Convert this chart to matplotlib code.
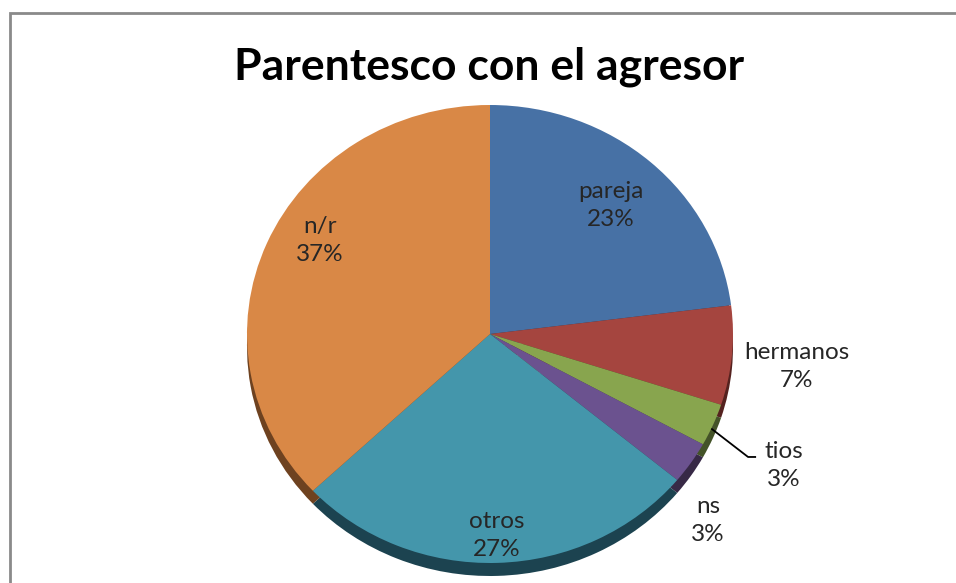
import numpy as np
import matplotlib
matplotlib.use("Agg")
import matplotlib.pyplot as plt
from matplotlib.lines import Line2D

# ---- data ----
categories = ["pareja", "hermanos", "tios", "ns", "otros", "n/r"]
values = [23, 7, 3, 3, 27, 37]
title = "Parentesco con el agresor"

colors = ["#4771A5", "#A5453F", "#88A54E", "#6B528F", "#4496AB", "#D98846"]
side_colors = ["#223A57", "#55221F", "#445328", "#372946", "#1C4350", "#6E4220"]

W, H = 956, 583
fig = plt.figure(figsize=(W / 100, H / 100), dpi=100)
fig.patch.set_facecolor("white")

# outer frame (only left and top edges are visible in the crop)
fx, fy = 9.5 / W, 1 - 13 / H
fig.add_artist(Line2D([fx, fx, 1.0], [0.0, fy, fy], transform=fig.transFigure,
                      color="#8a8a8a", lw=2.0, solid_capstyle="butt",
                      solid_joinstyle="miter"))

fig.text(489 / W, 1 - 67 / H, title, ha="center", va="center",
         fontsize=32, fontweight="bold", family="Lato", color="black")

# pie axes: x radius 243 px, y radius 229 px, centre at (490, 334)
cx, cy, rx, ry = 490, 334, 243, 229
m = 1.15
ax = fig.add_axes([(cx - m * rx) / W, 1 - (cy + m * ry) / H,
                   2 * m * rx / W, 2 * m * ry / H])

depth = 13 / ry
# side (depth) of the 3D pie
ax.pie(values, colors=side_colors, startangle=90, counterclock=False,
       center=(0, -depth), radius=1, frame=True,
       wedgeprops=dict(linewidth=0))
wedges, _ = ax.pie(values, colors=colors, startangle=90, counterclock=False,
                   center=(0, 0), radius=1, frame=True,
                   wedgeprops=dict(linewidth=0))
ax.set_xlim(-m, m)
ax.set_ylim(-m, m)
ax.set_aspect("auto")
ax.axis("off")

# label placement (distance from centre, angular nudge in degrees)
label_dist = [0.75, 1.27, 1.34, 1.21, 0.88, 0.81]
label_nudge = [0, -1, -2, -8, 0, -7]
total = float(sum(values))
for w, cat, v, d, nd in zip(wedges, categories, values, label_dist, label_nudge):
    ang = np.deg2rad((w.theta1 + w.theta2) / 2 + nd)
    ax.text(d * np.cos(ang), d * np.sin(ang),
            f"{cat}\n{v / total * 100:.0f}%", ha="center", va="center",
            fontsize=17.5, family="Lato", color="#262626", linespacing=1.42)

# leader line for "tios"
tw = wedges[2]
a = np.deg2rad((tw.theta1 + tw.theta2) / 2 - 1)
p0 = (1.0 * np.cos(a), 1.0 * np.sin(a))
p1 = (1.062, -0.537)
p2 = (1.095, -0.537)
ax.plot([p0[0], p1[0], p2[0]], [p0[1], p1[1], p2[1]], color="black", lw=1.3,
        solid_capstyle="butt")

fig.savefig("out.png", dpi=100)
